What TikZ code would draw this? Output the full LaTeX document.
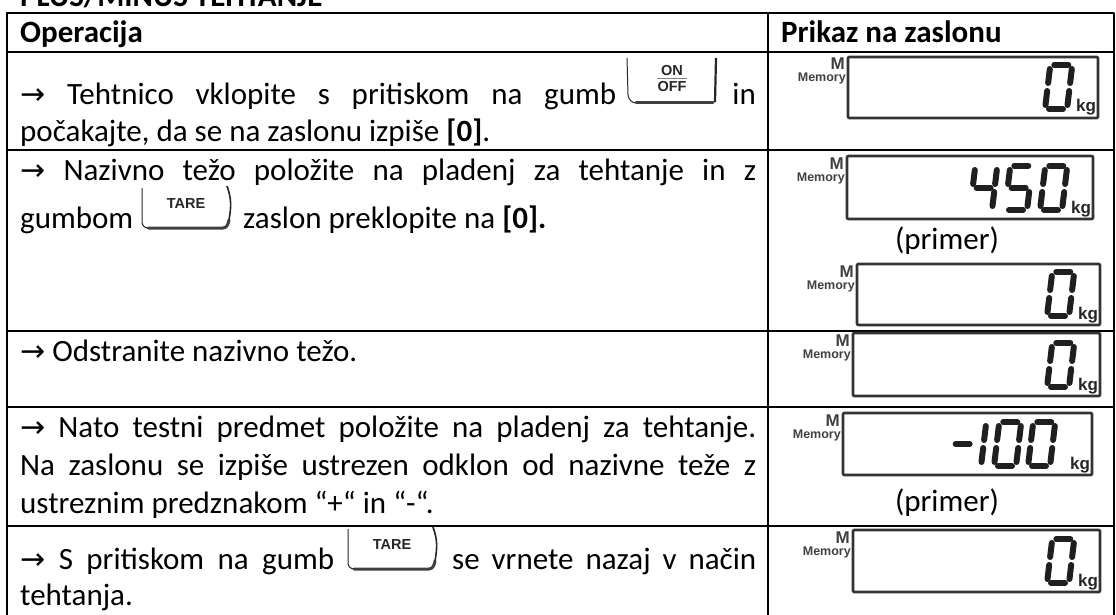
\documentclass[tikz,border=0pt]{standalone}
\usepackage{fontspec}
\setmainfont{Carlito}
\newfontfamily\arrowfont{DejaVu Sans}
\newfontfamily\keyfont{Liberation Sans}
\newcommand\ra{{\arrowfont\fontsize{30}{30}\selectfont →}}

% seven segment digit: x, bottom y, segments (1=a ... 7=g)
\newcommand\lcd[3]{%
  \begin{scope}[shift={(#1,#2)},xslant=0.12]
    \foreach \s in {#3}{%
      \ifcase\s\or
        \draw[lcdseg] (5,-44) -- (19,-44);\or
        \draw[lcdseg] (23,-40) -- (23,-26);\or
        \draw[lcdseg] (23,-18) -- (23,-4);\or
        \draw[lcdseg] (5,0) -- (19,0);\or
        \draw[lcdseg] (1,-18) -- (1,-4);\or
        \draw[lcdseg] (1,-40) -- (1,-26);\or
        \draw[lcdseg] (5,-22) -- (19,-22);\fi}%
  \end{scope}}

% display: name, left, top, right, bottom
\newcommand\panel[5]{%
  \draw[lcdbox] (#2,#3) rectangle (#4,#5);
  \node[memM] (#1m) at (#2-3,#3+13) {M};
  \node[memW] (#1w) at (#2-2,#3+25) {Memory};
  \node[kgtxt] (#1kg) at (#4-22,#5-6) {kg};}

\newcommand\tarekey[3]{%
  \begin{scope}[shift={(#2,#3)}]
    \draw[keyside] (1,-40) -- (1,-6) to[out=-90,in=180] (7,0);
    \draw[keybase] (7,0) -- (82,0) to[out=0,in=-100] (88,-8);
    \draw[keyside,line width=1.6pt] (88,-8) to[out=80,in=-70] (86,-42);
    \node[keytxt] (#1) at (45,-24) {TARE};
  \end{scope}}

\newcommand\onkey[3]{%
  \begin{scope}[shift={(#2,#3)}]
    \draw[keyside] (0,-45) -- (1,-8) to[out=-80,in=180] (9,0);
    \draw[keybase] (9,0) -- (86,0);
    \draw[keyside,line width=2.2pt] (89,-45) -- (88,-1);
    \node[keytxt] (#1on) at (45,-32) {ON};
    \draw[black!50,line width=0.8pt] (30,-25) -- (60,-25);
    \node[keytxt] (#1off) at (45,-16) {OFF};
  \end{scope}}

\begin{document}
\begin{tikzpicture}[x=1pt, y=-1pt, line join=round,
rule/.style={line width=2pt},
txt/.style={anchor=base west, inner sep=0pt, font=\fontsize{31}{38}\selectfont},
head/.style={txt, font=\fontsize{31}{38}\selectfont\bfseries},
lcdbox/.style={draw=black!80, line width=2.6pt, rounded corners=1pt},
lcdseg/.style={line width=6pt, line cap=round, black!88},
memM/.style={anchor=base east, inner sep=0pt, text=black!75, font=\keyfont\bfseries\fontsize{17}{17}\selectfont},
memW/.style={memM, font=\keyfont\bfseries\fontsize{12.5}{12}\selectfont},
kgtxt/.style={anchor=base west, inner sep=0pt, text=black!85, font=\keyfont\bfseries\fontsize{17}{17}\selectfont},
keyside/.style={line width=1pt, black!85},
keybase/.style={line width=3pt, black!75, line cap=round},
keytxt/.style={inner sep=0pt, text=black!85, font=\keyfont\bfseries\fontsize{14.5}{14}\selectfont}]
\useasboundingbox (0,0) rectangle (1116,615);
\clip (0,0) rectangle (1116,615);

\node[head] (title) at (20,7) {PLUS/MINUS TEHTANJE};

% table
\draw[rule] (7,615) -- (7,13) -- (1114,13) -- (1114,615);
\draw[rule] (768,13) -- (768,615);
\foreach \y in {52,150,331,407,526}
  \draw[rule] (7,\y) -- (1114,\y);

\node[head] (hop) at (20,43) {Operacija};
\node[head] (hdisp) at (781,43) {Prikaz na zaslonu};

% row 1
\node[txt] (r1a) at (20,105) {\makebox[596pt][s]{\ra\ Tehtnico vklopite s pritiskom na gumb}};
\onkey{k1}{627}{103}
\node[txt, anchor=base east] (r1b) at (756,105) {in};
\node[txt] (r1c) at (20,142) {počakajte, da se na zaslonu izpiše \textbf{[0]}.};
\panel{d1}{848}{57}{1098}{118}
\lcd{1044}{109}{1,2,3,4,5,6}

% row 2
\node[txt] (r2a) at (20,180) {\makebox[736pt][s]{\ra\ Nazivno težo položite na pladenj za tehtanje in z}};
\node[txt] (r2b) at (20,228) {gumbom};
\tarekey{k2}{141}{228}
\node[txt] (r2c) at (243,228) {zaslon preklopite na \textbf{[0].}};
\panel{d2}{847}{156}{1093}{219}
\lcd{969}{210}{6,7,2,3}
\lcd{1004}{210}{1,6,7,3,4}
\lcd{1039}{210}{1,2,3,4,5,6}
\node[txt, anchor=base] (p1) at (947,249) {(primer)};
\panel{d3}{857}{264}{1100}{325}
\lcd{1046}{316}{1,2,3,4,5,6}

% row 3
\node[txt] (r3a) at (20,361) {\ra\ Odstranite nazivno težo.};
\panel{d4}{853}{333}{1100}{396}
\lcd{1046}{387}{1,2,3,4,5,6}

% row 4
\node[txt] (r4a) at (20,437) {\makebox[736pt][s]{\ra\ Nato testni predmet položite na pladenj za tehtanje.}};
\node[txt] (r4b) at (20,475) {\makebox[736pt][s]{Na zaslonu se izpiše ustrezen odklon od nazivne teže z}};
\node[txt] (r4c) at (20,513) {ustreznim predznakom “+“ in “-“.};
\panel{d5}{843}{413}{1092}{475}
\lcd{948}{466}{7}
\lcd{958}{466}{2,3}
\lcd{993}{466}{1,2,3,4,5,6}
\lcd{1027}{466}{1,2,3,4,5,6}
\node[txt, anchor=base] (p2) at (947,511) {(primer)};

% row 5
\node[txt] (r5a) at (20,569) {\makebox[314pt][s]{\ra\ S pritiskom na gumb}};
\tarekey{k3}{347}{569}
\node[txt] (r5b) at (452,569) {\makebox[304pt][s]{se vrnete nazaj v način}};
\node[txt] (r5c) at (20,605) {tehtanja.};
\panel{d6}{853}{530}{1100}{592}
\lcd{1046}{583}{1,2,3,4,5,6}
\end{tikzpicture}
\end{document}
